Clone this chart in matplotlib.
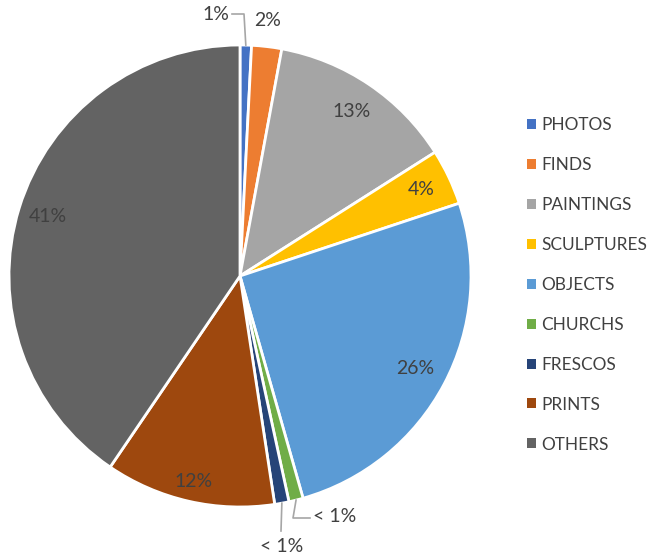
import numpy as np
import matplotlib.pyplot as plt
from matplotlib.patches import Patch

# Data
categories = ["PHOTOS", "FINDS", "PAINTINGS", "SCULPTURES", "OBJECTS",
              "CHURCHS", "FRESCOS", "PRINTS", "OTHERS"]
shares = [0.8, 2.1, 13.1, 3.9, 25.7, 1.0, 1.0, 11.9, 40.5]
pct_labels = ["1%", "2%", "13%", "4%", "26%", "< 1%", "< 1%", "12%", "41%"]

colors = ["#4472C4", "#ED7D31", "#A5A5A5", "#FFC000", "#5B9BD5",
          "#70AD47", "#264478", "#9E480E", "#636363"]

plt.rcParams['font.family'] = ['Lato', 'DejaVu Sans']
txt_color = "#404040"
lab_size = 14

W, H = 650, 560
fig = plt.figure(figsize=(W / 100, H / 100), dpi=100)

# pie centre / radius in pixels
cx, cy, r = 240, 276, 231
ax = fig.add_axes([(cx - r) / W, (H - cy - r) / H, 2 * r / W, 2 * r / H])

wedges, _ = ax.pie(shares, colors=colors, startangle=90, counterclock=False,
                   radius=1, wedgeprops=dict(edgecolor="white", linewidth=2))
ax.set_xlim(-1, 1)
ax.set_ylim(-1, 1)
ax.set_aspect("equal")
ax.axis("off")

# mid angles of each wedge
mids = [np.deg2rad((w.theta1 + w.theta2) / 2) for w in wedges]

inside = {2: 0.86, 3: 0.87, 4: 0.86, 7: 0.91, 8: 0.87}
for i, lab in enumerate(pct_labels):
    a = mids[i]
    if i in inside:
        d = inside[i]
        ax.text(d * np.cos(a), d * np.sin(a), lab, ha="center", va="center",
                fontsize=lab_size, color=txt_color)

leader = dict(color="#A6A6A6", lw=1.2)

def px(x, y):
    # pixel -> data coords of the pie axes
    return (x - cx) / r, (cy - y) / r

# PHOTOS: label above-left with leader
x0, y0 = np.cos(mids[0]), np.sin(mids[0])
p1 = px(244, 14)
p2 = px(232, 14)
ax.plot([x0, p1[0], p2[0]], [y0, p1[1], p2[1]], **leader, clip_on=False)
ax.text(*px(216, 14), pct_labels[0], ha="center", va="center",
        fontsize=lab_size, color=txt_color)

# FINDS: just outside
ax.text(*px(268, 21), pct_labels[1], ha="center", va="center",
        fontsize=lab_size, color=txt_color)

# CHURCHS
x0, y0 = np.cos(mids[5]), np.sin(mids[5])
p1 = px(293, 518)
p2 = px(310, 518)
ax.plot([x0, p1[0], p2[0]], [y0, p1[1], p2[1]], **leader, clip_on=False)
ax.text(*px(335, 516), pct_labels[5], ha="center", va="center",
        fontsize=lab_size, color=txt_color)

# FRESCOS
x0, y0 = np.cos(mids[6]), np.sin(mids[6])
p1 = px(281, 531)
ax.plot([x0, p1[0]], [y0, p1[1]], **leader, clip_on=False)
ax.text(*px(282, 546), pct_labels[6], ha="center", va="center",
        fontsize=lab_size, color=txt_color)

# legend
handles = [Patch(facecolor=c, edgecolor="none") for c in colors]
fig.legend(handles, categories, loc="upper left",
           bbox_to_anchor=(527 / W, 1 - 117 / H), frameon=False,
           borderpad=0, borderaxespad=0,
           fontsize=12.4, labelcolor=txt_color, handlelength=0.52,
           handleheight=0.52, handletextpad=0.3, labelspacing=1.39)

fig.savefig("out.png", dpi=100)
